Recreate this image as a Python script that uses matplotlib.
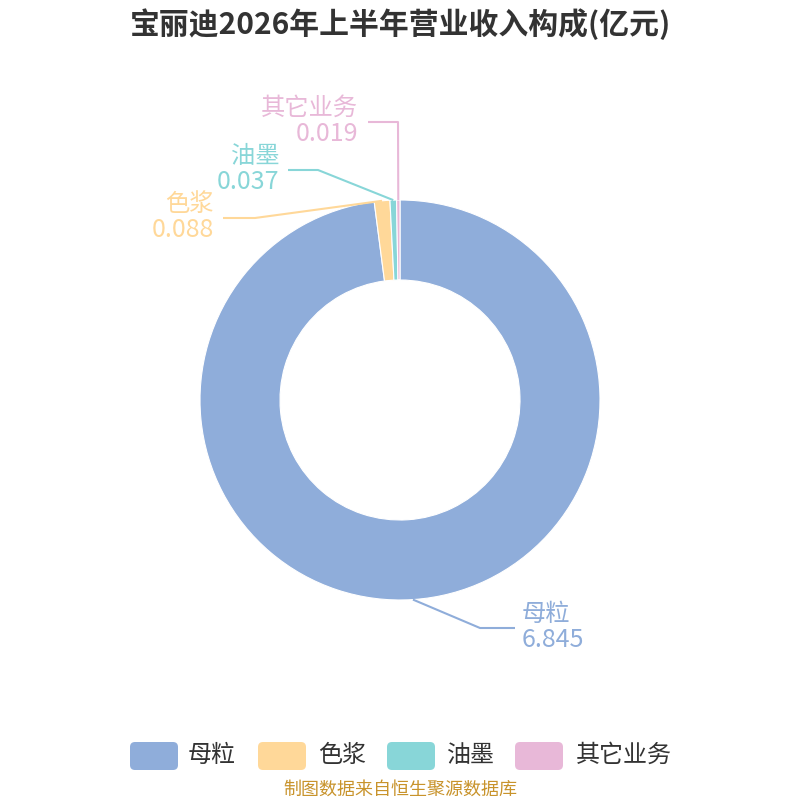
import numpy as np
import matplotlib.pyplot as plt
from matplotlib.patches import FancyBboxPatch

plt.rcParams['font.family'] = ['Noto Sans CJK SC', 'DejaVu Sans']

# data
title = '宝丽迪2026年上半年营业收入构成(亿元)'
categories = ['母粒', '色浆', '油墨', '其它业务']
values = [6.845, 0.088, 0.037, 0.019]
colors = ['#8FADDA', '#FFD899', '#88D6D8', '#E8B8D8']
source = '制图数据来自恒生聚源数据库'

# label layout (pixel coords, y from top): elbow point, line end, text x
label_layout = [
    ((480, 628), (515, 628), 522, 'left'),
    ((255, 218), (223, 218), 214, 'right'),
    ((318, 170), (288, 170), 279, 'right'),
    ((398, 122), (368, 122), 358, 'right'),
]

fig = plt.figure(figsize=(8, 8), dpi=100)
ax = fig.add_axes([0, 0, 1, 1])

cx, cy, R = 400, 400, 200
wedges, _ = ax.pie(values, colors=colors, startangle=90, counterclock=False,
                   center=(cx, cy), radius=R, frame=True,
                   wedgeprops=dict(width=80, edgecolor='white', linewidth=0.8))
ax.set_xlim(0, 800)
ax.set_ylim(0, 800)
ax.set_aspect('equal')
ax.axis('off')

for w, name, val, col, (elbow, end, tx, ha) in zip(wedges, categories, values, colors, label_layout):
    mid = np.deg2rad((w.theta1 + w.theta2) / 2)
    px, py = cx + R * np.cos(mid), cy + R * np.sin(mid)
    xs = [px, elbow[0], end[0]]
    ys = [py, 800 - elbow[1], 800 - end[1]]
    ax.plot(xs, ys, color=col, lw=1.5, solid_capstyle='butt')
    ax.text(tx, 800 - end[1] + 1, name, color=col, fontsize=17.5, ha=ha, va='bottom')
    ax.text(tx, 800 - end[1] + 1, f'{val:.3f}', color=col, fontsize=18, ha=ha, va='top')

fig.text(0.5, 1 - 24 / 800, title, ha='center', va='center', fontsize=21.5,
         fontweight='bold', color='#333333')

# legend
box_x = [130, 258, 387, 515]
text_x = [188, 318, 446, 576]
for bx, lx, name, col in zip(box_x, text_x, categories, colors):
    ax.add_patch(FancyBboxPatch((bx + 5, 800 - 770 + 5), 38, 18,
                                boxstyle='round,pad=5', fc=col, ec='none'))
    ax.text(lx, 800 - 755, name, fontsize=17.3, color='#333333', ha='left', va='center')

fig.text(0.5, 1 - 790 / 800, source, ha='center', va='center', fontsize=13, color='#C8932B')

fig.savefig('out.png', dpi=100)
